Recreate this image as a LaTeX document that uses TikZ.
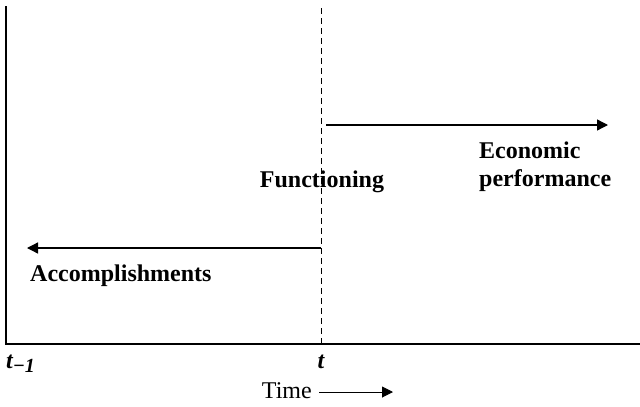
\documentclass[tikz,border=0pt]{standalone}
\usepackage{fontspec}
\setmainfont{Liberation Serif}
\usetikzlibrary{positioning,arrows.meta}

\tikzset{
  axisline/.style={line width=2.4pt},
  flow/.style={line width=1.3pt,-{Triangle[length=11pt,width=11pt]}},
  lbl/.style={font=\bfseries\fontsize{24}{28}\selectfont,inner sep=0pt},
  tick/.style={font=\bfseries\itshape\fontsize{24}{26}\selectfont,inner sep=0pt}
}

\begin{document}
\begin{tikzpicture}[x=1pt,y=-1pt]
\useasboundingbox (0,0) rectangle (640,407);
% axes
\coordinate (top) at (6,6);
\coordinate (origin) at (6,344);
\coordinate (right) at (640,344);
\draw[axisline] (top) -- (origin) -- (right);
% present moment
\coordinate (now top) at (321,8);
\coordinate (now) at (321,344);
\draw[line width=1pt,dash pattern=on 6pt off 4pt] (now top) -- (now);
% flows
\coordinate (fwd start) at (326,125);
\coordinate (fwd end) at (608,125);
\draw[flow] (fwd start) -- (fwd end);
\coordinate (back start) at (321,248);
\coordinate (back end) at (27,248);
\draw[flow] (back start) -- (back end);
% labels
\node[lbl] (func) at (322,182) {Functioning};
\node[lbl,align=left,anchor=west] (econ) at (479,167) {Economic\\performance};
\node[lbl,anchor=west] (acc) at (30,276) {Accomplishments};
\node[tick,anchor=west] (tminus) at (6,364) {t\raisebox{-4pt}{\fontsize{20}{20}\selectfont−1}};
\node[tick] (tnow) at (321,362) {t};
\node[font=\fontsize{24}{26}\selectfont,inner sep=0pt,anchor=east] (time) at (312,391) {Time};
\coordinate (time end) at (393,392);
\draw[flow,line width=1pt] (time.east) ++(7,1) coordinate (time start) -- (time end);
\end{tikzpicture}
\end{document}
